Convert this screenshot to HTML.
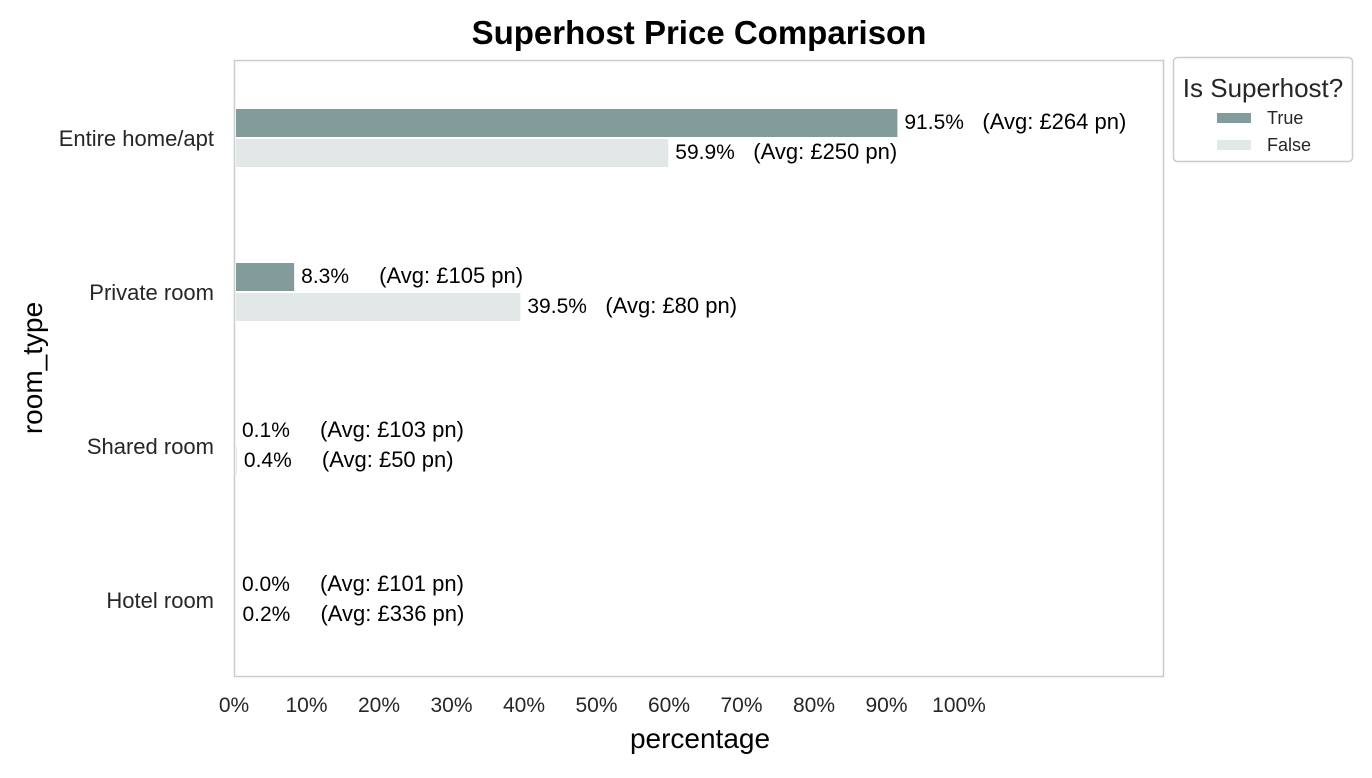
<!DOCTYPE html>
<html><head><meta charset="utf-8"><style>
body{margin:0;background:#fff;font-family:"Liberation Sans",Arial,sans-serif;}
svg text{font-family:"Liberation Sans",Arial,sans-serif;}
</style></head><body>
<svg id="chart" width="1372" height="773">
<text x="699" y="44" text-anchor="middle" font-size="33" font-weight="bold" fill="#000">Superhost Price Comparison</text>
<rect x="234.5" y="60.5" width="929" height="616" fill="none" stroke="#cccccc" stroke-width="1.5"/>
<g id="bars"></g>
<g id="xticks"></g>
<g id="yticks"></g>
<text x="700" y="748" text-anchor="middle" font-size="28" fill="#000">percentage</text>
<text transform="translate(42,368) rotate(-90)" text-anchor="middle" font-size="28" fill="#000">room_type</text>
<g>
<rect x="1173.5" y="57.5" width="179" height="104" rx="4" fill="#fff" stroke="#cccccc" stroke-width="1.5"/>
<text x="1263" y="97" text-anchor="middle" font-size="26" fill="#262626">Is Superhost?</text>
<rect x="1217" y="113" width="34" height="10" fill="#829b9b"/>
<text x="1267" y="124" font-size="18" fill="#262626">True</text>
<rect x="1217" y="140" width="34" height="10" fill="#e2e8e8"/>
<text x="1267" y="151" font-size="18" fill="#262626">False</text>
</g>
</svg>
<script>
const categories=["Entire home/apt","Private room","Shared room","Hotel room"];
const trueValues=[91.5,8.3,0.1,0.0];
const falseValues=[59.9,39.5,0.4,0.2];
const trueAvg=[264,105,103,101];
const falseAvg=[250,80,50,336];
const xTicks=[0,10,20,30,40,50,60,70,80,90,100];
const NS="http://www.w3.org/2000/svg";
const x=v=>234+v*7.25;
const yc=i=>138+i*154;
function mk(tag,attrs,parent,text){const e=document.createElementNS(NS,tag);for(const k in attrs)e.setAttribute(k,attrs[k]);if(text!==undefined)e.textContent=text;parent.appendChild(e);return e;}
const bars=document.getElementById('bars'),xt=document.getElementById('xticks'),yt=document.getElementById('yticks');
categories.forEach((c,i)=>{
  const t=yc(i);
  [[trueValues[i],trueAvg[i],'#829b9b',t-29,'true'],[falseValues[i],falseAvg[i],'#e2e8e8',t+1,'false']].forEach(([v,a,col,top,s])=>{
    const r=mk('rect',{x:236,y:top,width:Math.max(0,x(v)-236),height:28,fill:col},bars);
    
    
    const lt=mk('text',{x:Math.max(x(v),235)+7,y:top+20,'font-size':21,fill:'#000'},bars,v.toFixed(1)+'%');
    
    
    const at=mk('text',{x:Math.max(x(v),235)+85,y:top+20,'font-size':22,fill:'#000'},bars,'(Avg: £'+a+' pn)');
    
    
  });
  const yl=mk('text',{x:214,y:t+8,'text-anchor':'end','font-size':22,fill:'#262626'},yt,c);
  
  
});
xTicks.forEach(v=>{
  const e=mk('text',{x:x(v),y:712,'text-anchor':'middle','font-size':21,fill:'#262626'},xt,v+'%');
  
  
});
</script>
</body></html>
